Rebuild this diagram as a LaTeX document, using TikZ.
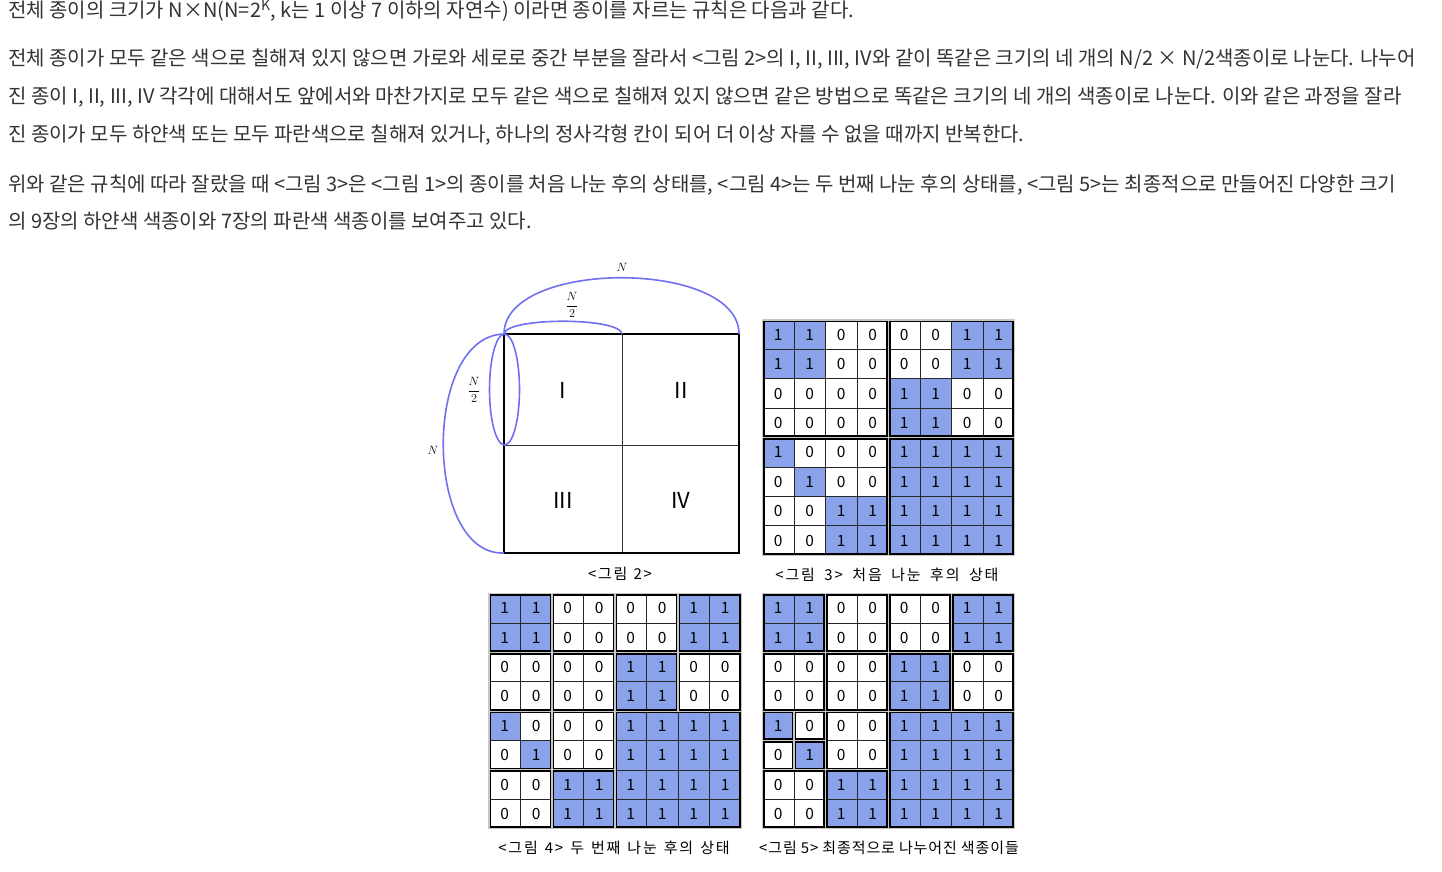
\documentclass[tikz,border=0pt]{standalone}
\usepackage{fontspec}
\setmainfont{Noto Sans CJK KR}
\newfontfamily\capfont[LetterSpace=12]{Noto Sans CJK KR}
\newfontfamily\capfonttight[LetterSpace=6]{Noto Sans CJK KR}
\definecolor{paperblue}{RGB}{138,162,234}
\definecolor{arcblue}{RGB}{112,112,240}
\definecolor{bodygray}{RGB}{51,51,51}
\def\cw{31.5}
\def\ch{29.4}
\def\griddata{{1,1,0,0,0,0,1,1},{1,1,0,0,0,0,1,1},{0,0,0,0,1,1,0,0},{0,0,0,0,1,1,0,0},{1,0,0,0,1,1,1,1},{0,1,0,0,1,1,1,1},{0,0,1,1,1,1,1,1},{0,0,1,1,1,1,1,1}}
\def\blocksfirst{0/0/4,4/0/4,0/4/4,4/4/4}
\def\blockssecond{0/0/2,2/0/2,0/2/2,2/2/2,4/0/2,6/0/2,4/2/2,6/2/2,0/4/2,2/4/2,0/6/2,2/6/2,4/4/4}
\def\blocksfinal{0/0/2,2/0/2,0/2/2,2/2/2,4/0/2,6/0/2,4/2/2,6/2/2,0/4/1,1/4/1,0/5/1,1/5/1,2/4/2,0/6/2,2/6/2,4/4/4}
% caption text with its own word gap
\newcommand{\captext}[2]{{\spaceskip=#1pt\relax #2}}
% one 8x8 sheet: #1 name, #2 x, #3 y, #4 blocks
\newcommand{\colorgrid}[4]{%
  \begin{scope}[shift={(#2,#3)}]
    \foreach \row [count=\r] in \griddata {
      \foreach \v [count=\c] in \row {
        \ifnum\v=1 \def\cellfill{paperblue}\else\def\cellfill{white}\fi
        \node[cell, fill=\cellfill] (#1-\r-\c) at ({(\c-0.5)*\cw},{(\r-0.5)*\ch}) {\v};
      }
    }
    \foreach \bc/\br/\bs in #4 {
      \draw[blockgap] ({\bc*\cw},{\br*\ch}) rectangle ({(\bc+\bs)*\cw},{(\br+\bs)*\ch});
      \draw[blockedge] ({\bc*\cw+1.4},{\br*\ch+1.4}) rectangle ({(\bc+\bs)*\cw-1.4},{(\br+\bs)*\ch-1.4});
    }
  \end{scope}}
\begin{document}
\begin{tikzpicture}[x=1pt,y=-1pt,
    bodyline/.style={anchor=base west,inner sep=0pt,text=bodygray,font=\fontsize{20}{22}\selectfont},
    cell/.style={draw=black!85,line width=0.8pt,minimum width=\cw pt,minimum height=\ch pt,inner sep=0pt,font=\fontsize{15.5}{15.5}\selectfont},
    blockgap/.style={draw=black!22,line width=1.2pt},
    blockedge/.style={draw=black,line width=1.8pt},
    caption/.style={inner sep=0pt,font=\capfont\fontsize{15}{15}\selectfont},
    arcline/.style={draw=arcblue,line width=1.6pt},
    roman/.style={inner sep=0pt,font=\fontsize{22}{22}\selectfont},
    mathlabel/.style={inner sep=0pt,font=\fontsize{13}{13}\selectfont}]
\useasboundingbox[fill=white] (0,0) rectangle (1442,872);
% text above the pictures
\node[bodyline] (line1) at (8,18) {전체 종이의 크기가 N×N(N=2\textsuperscript{K}, k는 1 이상 7 이하의 자연수) 이라면 종이를 자르는 규칙은 다음과 같다.};
\node[bodyline] (line2) at (8,66) {전체 종이가 모두 같은 색으로 칠해져 있지 않으면 가로와 세로로 중간 부분을 잘라서 <그림 2>의 I, II, III, IV와 같이 똑같은 크기의 네 개의 N/2 × N/2색종이로 나눈다. 나누어};
\node[bodyline] (line3) at (8,104) {진 종이 I, II, III, IV 각각에 대해서도 앞에서와 마찬가지로 모두 같은 색으로 칠해져 있지 않으면 같은 방법으로 똑같은 크기의 네 개의 색종이로 나눈다. 이와 같은 과정을 잘라};
\node[bodyline] (line4) at (8,141) {진 종이가 모두 하얀색 또는 모두 파란색으로 칠해져 있거나, 하나의 정사각형 칸이 되어 더 이상 자를 수 없을 때까지 반복한다.};
\node[bodyline] (line5) at (8,191) {위와 같은 규칙에 따라 잘랐을 때 <그림 3>은 <그림 1>의 종이를 처음 나눈 후의 상태를, <그림 4>는 두 번째 나눈 후의 상태를, <그림 5>는 최종적으로 만들어진 다양한 크기};
\node[bodyline] (line6) at (8,228) {의 9장의 하얀색 색종이와 7장의 파란색 색종이를 보여주고 있다.};
% figure 2
\coordinate (nw) at (504,334);
\coordinate (ne) at (739,334);
\coordinate (sw) at (504,553);
\coordinate (se) at (739,553);
\coordinate (nm) at (622,334);
\coordinate (wm) at (504,445);
\draw[black!80,line width=1pt] (nm) -- (622,553);
\draw[black!80,line width=1pt] (wm) -- (739,445);
\draw[black,line width=2.2pt] (nw) rectangle (se);
\draw[arcline] (nw) .. controls (504,259) and (739,259) .. (ne);
\draw[arcline] (nw) .. controls (506,317) and (620,317) .. (nm);
\draw[arcline] (nw) .. controls (422,336) and (424,556) .. (sw);
\draw[arcline] (504.5,389.5) ellipse [x radius=15pt, y radius=55.5pt];
\node[roman] (q1) at (563,390) {I};
\node[roman] (q2) at (681,390) {II};
\node[roman] (q3) at (563,500) {III};
\node[roman] (q4) at (681,500) {IV};
\node[mathlabel] (ntop) at (622,267) {$N$};
\node[mathlabel] (nhalftop) at (572,305) {$\displaystyle\frac{N}{2}$};
\node[mathlabel] (nleft) at (433,450) {$N$};
\node[mathlabel] (nhalfleft) at (474,390) {$\displaystyle\frac{N}{2}$};
\node[caption] (cap2) at (620,574) {\captext{6}{<그림 2>}};
% figures 3, 4, 5
\colorgrid{first}{762.5}{320}{\blocksfirst}
\colorgrid{second}{489}{593.5}{\blockssecond}
\colorgrid{final}{762.5}{593.5}{\blocksfinal}
\node[caption] (cap3) at (887,575) {\captext{9.5}{<그림 3> 처음 나눈 후의 상태}};
\node[caption] (cap4) at (614,848) {\captext{7}{<그림 4> 두 번째 나눈 후의 상태}};
\node[caption, font=\capfonttight\fontsize{15}{15}\selectfont] (cap5) at (889,848) {\captext{4}{<그림 5> 최종적으로 나누어진 색종이들}};
\end{tikzpicture}
\end{document}
